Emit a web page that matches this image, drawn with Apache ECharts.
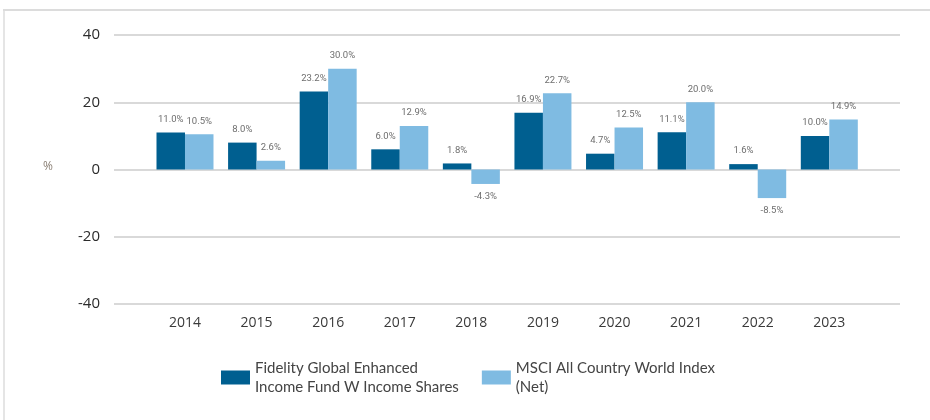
<!DOCTYPE html>
<html>
<head>
<meta charset="utf-8">
<script src="https://cdn.jsdelivr.net/npm/echarts@6/dist/echarts.min.js"></script>
<style>
html,body{margin:0;padding:0;background:#fff;}
#chart{width:930px;height:420px;}
</style>
</head>
<body>
<div id="chart"></div>
<script>
var categories = ['2014','2015','2016','2017','2018','2019','2020','2021','2022','2023'];
var fundName = 'Fidelity Global Enhanced\nIncome Fund W Income Shares';
var indexName = 'MSCI All Country World Index\n(Net)';
var fundValues = [11.0, 8.0, 23.2, 6.0, 1.8, 16.9, 4.7, 11.1, 1.6, 10.0];
var indexValues = [10.5, 2.6, 30.0, 12.9, -4.3, 22.7, 12.5, 20.0, -8.5, 14.9];
var yTicks = {min: -40, max: 40, interval: 20};

var chart = echarts.init(document.getElementById('chart'));
var labelFont = 'Roboto';
function barLabel(){
  return {
    show: true,
    position: 'top',
    distance: 8,
    fontSize: 9.5,
    fontFamily: labelFont,
    color: '#6e6e6e',
    formatter: function(p){ return p.value.toFixed(1) + '%'; }
  };
}
function mkData(arr){
  return arr.map(function(v){
    return v < 0 ? {value: v, label: {position: 'bottom'}} : {value: v};
  });
}
chart.setOption({
  animation: false,
  textStyle: {fontFamily: 'Open Sans'},
  graphic: [
    {type:'line', shape:{x1:3,y1:10,x2:930,y2:10}, style:{stroke:'#dcdcdc', lineWidth:2}},
    {type:'line', shape:{x1:4,y1:10,x2:4,y2:420}, style:{stroke:'#dcdcdc', lineWidth:1.5}},
    {type:'text', left:43, top:161, style:{text:'%', fontSize:12, fontFamily:'Open Sans', fill:'#8a7f74'}}
  ],
  grid: [
    {left:114, width:786, top:35, height:269},
    {left:149.2, width:715.9, top:35, height:269}
  ],
  xAxis: [
    {gridIndex:0, type:'category', data:categories, show:false},
    {gridIndex:1, type:'category', data:categories,
     axisLine:{show:false}, axisTick:{show:false},
     axisLabel:{fontSize:14, color:'#3a3a3a', margin:12, fontFamily:'Open Sans'}}
  ],
  yAxis: [
    {gridIndex:0, type:'value', min:yTicks.min, max:yTicks.max, interval:yTicks.interval,
     axisLine:{show:false}, axisTick:{show:false},
     axisLabel:{fontSize:15, color:'#2b2b2b', margin:14, fontFamily:'Open Sans'},
     splitLine:{lineStyle:{color:'#d9d9d9', width:2}}},
    {gridIndex:1, type:'value', min:yTicks.min, max:yTicks.max, interval:yTicks.interval, show:false,
     splitLine:{show:false}}
  ],
  legend: {
    top: 353,
    left: 216,
    itemWidth: 29,
    itemHeight: 14,
    itemGap: 23,
    icon: 'rect',
    textStyle: {fontSize: 15, lineHeight: 19.5, color: '#444', fontFamily: 'Lato'},
    data: [fundName, indexName]
  },
  series: [
    {name: fundName, type:'bar', xAxisIndex:1, yAxisIndex:1, data: mkData(fundValues),
     barWidth: 28.5, barGap: '0%', itemStyle:{color:'#005f90'}, label: barLabel()},
    {name: indexName, type:'bar', xAxisIndex:1, yAxisIndex:1, data: mkData(indexValues),
     barWidth: 28.5, barGap: '0%', itemStyle:{color:'#7fbbe2'}, label: barLabel()}
  ]
});
</script>
</body>
</html>
